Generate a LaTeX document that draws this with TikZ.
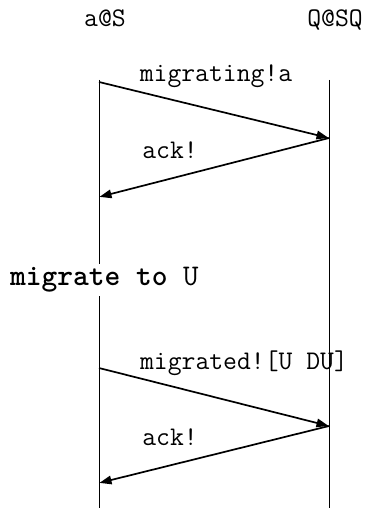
\documentclass[tikz,border=0pt]{standalone}
\usepackage{fontspec}
\usetikzlibrary{arrows.meta}
\tikzset{
  lbl/.style={font=\ttfamily\fontsize{26.9}{27}\selectfont, inner sep=0pt, anchor=base},
  lifeline/.style={line width=0.8pt},
  msg/.style={line width=1.7pt, -{Triangle[length=12pt,width=8.5pt]}, shorten >=0.5pt}
}
\begin{document}
\begin{tikzpicture}[x=1pt,y=-1pt]
\useasboundingbox (0,0) rectangle (368,508);
% participants
\node[lbl] (pa) at (105,27) {a@S};
\node[lbl] (pq) at (335,27) {Q@SQ};
% lifeline endpoints
\coordinate (atop) at (99,80);
\coordinate (abot) at (99,508);
\coordinate (qtop) at (329,80);
\coordinate (qbot) at (329,508);
\draw[lifeline] (atop) -- (abot);
\draw[lifeline] (qtop) -- (qbot);
% message points
\coordinate (a1) at (99,82);
\coordinate (q1) at (329,138);
\coordinate (a2) at (99,197);
\coordinate (a3) at (99,368);
\coordinate (q3) at (329,426);
\coordinate (a4) at (99,483);
% action label on the left lifeline
\node[font=\ttfamily\fontsize{30}{30}\selectfont, fill=white, inner xsep=0pt, inner ysep=3pt, anchor=west]
  (mig) at (10,280) {\textbf{migrate to} U};
% messages
\draw[msg] (a1) -- (q1);
\node[lbl] (l1) at (216,82) {migrating!a};
\draw[msg] (q1) -- (a2);
\node[lbl] (l2) at (170,158) {ack!};
\draw[msg] (a3) -- (q3);
\node[lbl] (l3) at (244,369) {migrated![U DU]};
\draw[msg] (q3) -- (a4);
\node[lbl] (l4) at (170,445) {ack!};
\end{tikzpicture}
\end{document}
